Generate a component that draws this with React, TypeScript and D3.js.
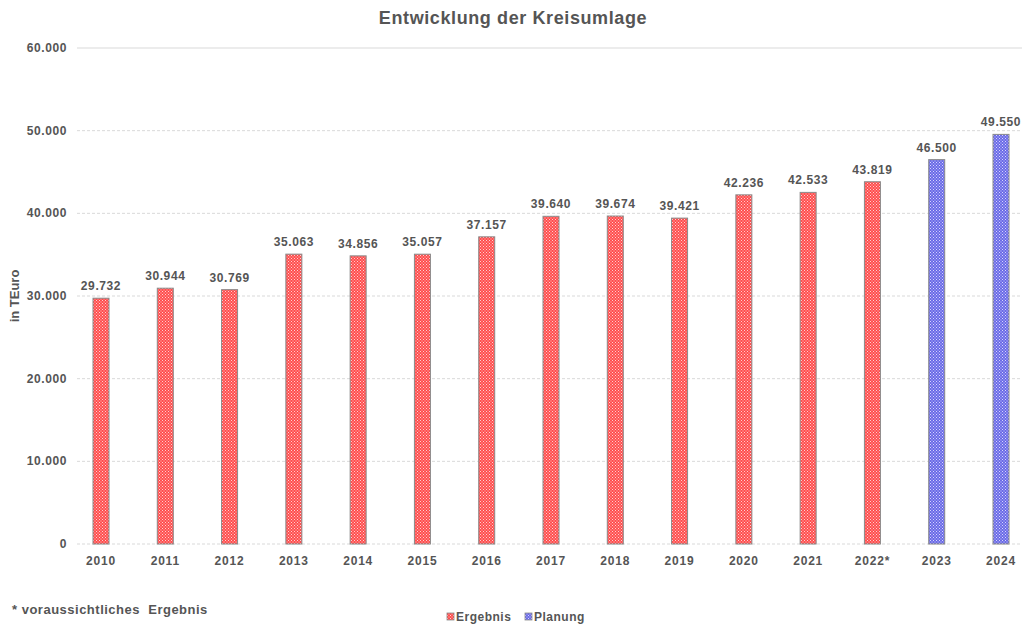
import React from "react";
import * as d3 from "d3";

const categories = ["2010","2011","2012","2013","2014","2015","2016","2017","2018","2019","2020","2021","2022*","2023","2024"];
const values = [29732,30944,30769,35063,34856,35057,37157,39640,39674,39421,42236,42533,43819,46500,49550];
const seriesOf = ["Ergebnis","Ergebnis","Ergebnis","Ergebnis","Ergebnis","Ergebnis","Ergebnis","Ergebnis","Ergebnis","Ergebnis","Ergebnis","Ergebnis","Ergebnis","Planung","Planung"];
const yTicks = [0,10000,20000,30000,40000,50000,60000];
const legendItems = ["Ergebnis","Planung"];

const W = 1027, H = 628;
const FONT = "'Liberation Sans', Arial, sans-serif";
const TXT = "#555";

export default function App() {
  const x = d3.scalePoint<string>().domain(categories).range([101, 1001]);
  const y = d3.scaleLinear().domain([0, 60000]).range([544, 48]);
  const loc = d3.formatLocale({ decimal: ",", thousands: ".", grouping: [3], currency: ["", "€"] });
  const fmt = loc.format(",d");
  const color = (s: string) => (s === "Ergebnis" ? "url(#patRed)" : "url(#patBlue)");
  const bw = 16;
  return (
    <svg width={W} height={H} style={{ position: "absolute", left: 0, top: 0, background: "#fff" }} fontFamily={FONT}>
      <defs>
        <pattern id="patRed" width="3" height="3" patternUnits="userSpaceOnUse">
          <rect width="3" height="3" fill="#ff4d4d" />
          <rect x="0" y="0" width="1" height="1" fill="#ffd0d0" />
          <rect x="1.5" y="1.5" width="1" height="1" fill="#ffd0d0" />
        </pattern>
        <pattern id="patBlue" width="3" height="3" patternUnits="userSpaceOnUse">
          <rect width="3" height="3" fill="#6a6ae6" />
          <rect x="0" y="0" width="1" height="1" fill="#d6d6ff" />
          <rect x="1.5" y="1.5" width="1" height="1" fill="#d6d6ff" />
        </pattern>
      </defs>
      <text x={513} y={24} textAnchor="middle" fontSize={18} fontWeight="bold" letterSpacing={0.6} fill={TXT}>Entwicklung der Kreisumlage</text>
      {yTicks.map((t) => (
        <g key={t}>
          <line x1={77} x2={1022} y1={y(t)} y2={y(t)} stroke="#d9d9d9" strokeWidth={1} strokeDasharray={t === 60000 ? undefined : "3,2"} />
          <text x={67} y={y(t) + 4} textAnchor="end" fontSize={12} fontWeight="bold" letterSpacing={0.6} fill={TXT}>{fmt(t)}</text>
        </g>
      ))}
      <text transform={`translate(19,296) rotate(-90)`} textAnchor="middle" fontSize={13} fontWeight="bold" fill={TXT}>in TEuro</text>
      {categories.map((c, i) => (
        <g key={c}>
          <rect x={(x(c) as number) - bw / 2} y={y(values[i])} width={bw} height={y(0) - y(values[i])} fill={color(seriesOf[i])} stroke="#8a8a8a" strokeWidth={1} />
          <text x={x(c) as number} y={y(values[i]) - 8} textAnchor="middle" fontSize={12} fontWeight="bold" letterSpacing={0.6} fill={TXT}>{fmt(values[i])}</text>
          <text x={x(c) as number} y={565} textAnchor="middle" fontSize={12} fontWeight="bold" letterSpacing={0.8} fill={TXT}>{c}</text>
        </g>
      ))}
      <text x={12} y={614} fontSize={13} fontWeight="bold" letterSpacing={0.5} fill={TXT} style={{ whiteSpace: "pre" }}>{"* voraussichtliches  Ergebnis"}</text>
      {legendItems.map((s, i) => {
        const lx = 447 + i * 78;
        return (
          <g key={s}>
            <rect x={lx} y={613} width={7} height={7} fill={color(s)} stroke="#8a8a8a" strokeWidth={0.8} />
            <text x={lx + 9} y={621} fontSize={12} fontWeight="bold" letterSpacing={0.5} fill={TXT}>{s}</text>
          </g>
        );
      })}
    </svg>
  );
}
